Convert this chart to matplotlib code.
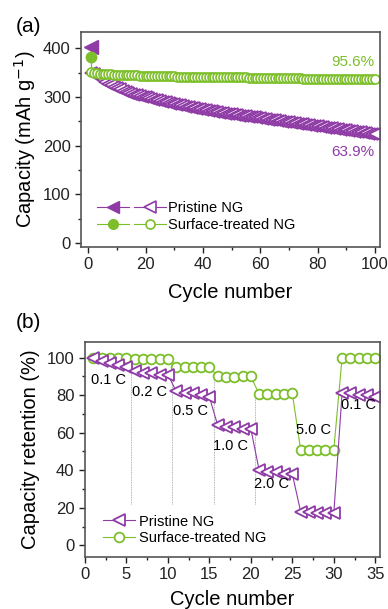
import matplotlib
matplotlib.use("Agg")
import matplotlib.pyplot as plt
from matplotlib.lines import Line2D
from matplotlib.legend_handler import HandlerTuple
from matplotlib.ticker import MultipleLocator

plt.rcParams['font.family'] = ['Liberation Sans', 'DejaVu Sans']

purple = '#8e3ba6'
green = '#7cbf2a'
frame = '#555555'

# ---- panel (a): cycling at 100 cycles ----
pristine_first = 402
treated_first = 382
pristine_cap = [350, 348, 343, 338, 334, 330, 327, 324, 321, 318,
                316, 313, 311, 309, 307, 305, 304, 302, 300, 299,
                297, 296, 294, 293, 291, 290, 289, 287, 286, 285,
                284, 283, 282, 280, 279, 278, 277, 276, 275, 274,
                273, 272, 271, 270, 269, 268, 267, 266, 265, 265,
                264, 263, 262, 261, 260, 259, 258, 258, 257, 256,
                255, 254, 253, 253, 252, 251, 250, 249, 248, 248,
                247, 246, 245, 244, 244, 243, 242, 241, 240, 240,
                239, 238, 237, 236, 236, 235, 234, 233, 232, 232,
                231, 230, 229, 228, 228, 227, 226, 225, 224, 224]
treated_cap = [352, 350, 349, 348, 348, 347, 347, 347, 346, 346,
               346, 346, 345, 345, 345, 345, 345, 344, 344, 344,
               344, 344, 344, 343, 343, 343, 343, 343, 343, 343,
               342, 342, 342, 342, 342, 342, 342, 342, 341, 341,
               341, 341, 341, 341, 341, 341, 340, 340, 340, 340,
               340, 340, 340, 340, 340, 339, 339, 339, 339, 339,
               339, 339, 339, 339, 338, 338, 338, 338, 338, 338,
               338, 338, 338, 338, 337, 337, 337, 337, 337, 337,
               337, 337, 337, 337, 337, 336, 336, 336, 336, 336,
               336, 336, 336, 336, 336, 336, 336, 336, 336, 336]
cycles_a = list(range(1, 101))

# ---- panel (b): rate capability ----
cycles_b = list(range(1, 36))
pristine_ret = [100, 98, 97, 96, 95, 93, 92, 92, 91, 91,
                82, 81, 81, 80, 79, 64, 63, 63, 62, 62,
                40, 39, 39, 38, 38, 18, 18, 17, 17, 17,
                81, 81, 80, 80, 79]
treated_ret = [100, 100, 100, 100, 100, 99, 99, 99, 99, 99,
               95, 95, 95, 95, 95, 90, 89.5, 89.5, 90, 90,
               80.5, 80.5, 80.5, 80.5, 81, 51, 51, 51, 51, 51,
               100, 100, 100, 100, 100]
rate_labels = ['0.1 C', '0.2 C', '0.5 C', '1.0 C', '2.0 C', '5.0 C', '0.1 C']
rate_label_x = [2.8, 7.8, 12.7, 17.5, 22.5, 27.5, 33.0]
rate_label_y = [88, 81.5, 71.5, 53, 32.5, 61.5, 75]
step_x = [5.5, 10.5, 15.5, 20.5]
step_top = [93, 88, 88, 79]

fig = plt.figure(figsize=(3.88, 6.09), dpi=100)
ax1 = fig.add_axes([0.209, 0.595, 0.771, 0.353])
ax2 = fig.add_axes([0.219, 0.086, 0.761, 0.353])

# (a)
ax1.plot([cycles_a[0], cycles_a[0]], [pristine_first, pristine_cap[0]], color=purple, lw=0.8)
ax1.plot([cycles_a[0], cycles_a[0]], [treated_first, treated_cap[0]], color=green, lw=0.8)
ax1.plot(cycles_a, pristine_cap, color=purple, lw=0.8, marker='<', ms=8.5,
         mfc='white', mec=purple, mew=1.2)
ax1.plot(cycles_a, treated_cap, color=green, lw=0.8, marker='o', ms=6.5,
         mfc='white', mec=green, mew=1.2)
ax1.plot(cycles_a[0], pristine_first, marker='<', ms=10, color=purple, ls='none')
ax1.plot(cycles_a[0], treated_first, marker='o', ms=7.5, color=green, ls='none')

ax1.text(92.3, 372, '95.6%', color=green, fontsize=11, ha='center', va='center')
ax1.text(92.3, 188, '63.9%', color=purple, fontsize=11, ha='center', va='center')

h_pf = Line2D([], [], color=purple, lw=0.8, marker='<', ms=9, mfc=purple, mec=purple)
h_po = Line2D([], [], color=purple, lw=0.8, marker='<', ms=8, mfc='white', mec=purple, mew=1.2)
h_tf = Line2D([], [], color=green, lw=0.8, marker='o', ms=7, mfc=green, mec=green)
h_to = Line2D([], [], color=green, lw=0.8, marker='o', ms=6.5, mfc='white', mec=green, mew=1.2)
ax1.legend([(h_pf, h_po), (h_tf, h_to)], ['Pristine NG', 'Surface-treated NG'],
           handler_map={tuple: HandlerTuple(ndivide=None, pad=0.3)},
           loc='lower left', bbox_to_anchor=(0.035, 0.04), frameon=False,
           fontsize=10.5, handlelength=4.7, handletextpad=0.15, labelspacing=0.2,
           borderaxespad=0)

ax1.set_xlim(-2.5, 101.8)
ax1.set_ylim(-7, 434)
ax1.xaxis.set_major_locator(MultipleLocator(20))
ax1.xaxis.set_minor_locator(MultipleLocator(10))
ax1.yaxis.set_major_locator(MultipleLocator(100))
ax1.yaxis.set_minor_locator(MultipleLocator(50))
ax1.set_xlabel('Cycle number', fontsize=14.5, labelpad=8)
ax1.set_ylabel('Capacity (mAh g$^{-1}$)', fontsize=14.5)
ax1.yaxis.set_label_coords(-0.145, 0.5)

# (b)
ax2.vlines(step_x, 22, step_top, colors='#999999', lw=0.6, linestyles=(0, (1, 1)))
ax2.plot(cycles_b, treated_ret, color=green, lw=0.8, marker='o', ms=7,
         mfc='white', mec=green, mew=1.3, label='Surface-treated NG')
ax2.plot(cycles_b, pristine_ret, color=purple, lw=0.8, marker='<', ms=9,
         mfc='white', mec=purple, mew=1.3, label='Pristine NG')
for lab, x, y in zip(rate_labels, rate_label_x, rate_label_y):
    ax2.text(x, y, lab, fontsize=10.5, ha='center', va='center')

handles, labels = ax2.get_legend_handles_labels()
ax2.legend(handles[::-1], labels[::-1], loc='lower left', bbox_to_anchor=(0.04, 0.025),
           frameon=False, fontsize=10.5, handlelength=2.2, handletextpad=0.3,
           labelspacing=0.2, borderaxespad=0)

ax2.set_xlim(0, 35.6)
ax2.set_ylim(-6, 108.5)
ax2.xaxis.set_major_locator(MultipleLocator(5))
ax2.xaxis.set_minor_locator(MultipleLocator(2.5))
ax2.yaxis.set_major_locator(MultipleLocator(20))
ax2.yaxis.set_minor_locator(MultipleLocator(10))
ax2.set_xlabel('Cycle number', fontsize=14.5, labelpad=6)
ax2.set_ylabel('Capacity retention (%)', fontsize=14.5)
ax2.yaxis.set_label_coords(-0.153, 0.5)

fig.text(0.04, 0.956, '(a)', fontsize=15, va='center', ha='left')
fig.text(0.04, 0.470, '(b)', fontsize=15, va='center', ha='left')

for ax in (ax1, ax2):
    for s in ax.spines.values():
        s.set_color(frame)
        s.set_linewidth(1.2)
    ax.tick_params(which='both', direction='out', top=False, right=False,
                   labelsize=12, colors='#222222')
    ax.tick_params(which='major', length=4, width=1)
    ax.tick_params(which='minor', length=2.5, width=1)

fig.savefig('out.png', dpi=100)
